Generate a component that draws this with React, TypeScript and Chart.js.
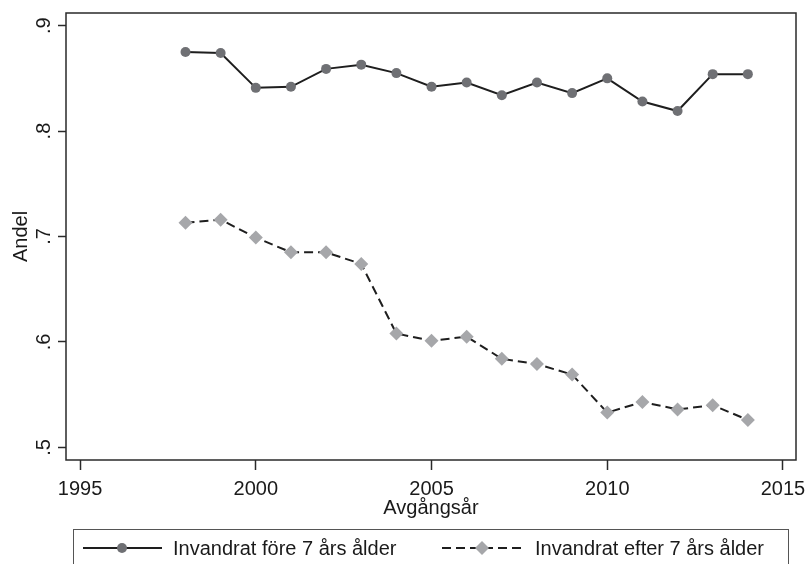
import React, { useEffect, useRef } from "react";
import { Chart, registerables } from "chart.js";

Chart.register(...registerables);

const years = [1998, 1999, 2000, 2001, 2002, 2003, 2004, 2005, 2006, 2007, 2008, 2009, 2010, 2011, 2012, 2013, 2014];
const fore = [0.875, 0.874, 0.841, 0.842, 0.859, 0.863, 0.855, 0.842, 0.846, 0.834, 0.846, 0.836, 0.850, 0.828, 0.819, 0.854, 0.854];
const efter = [0.713, 0.716, 0.699, 0.685, 0.685, 0.674, 0.608, 0.601, 0.605, 0.584, 0.579, 0.569, 0.533, 0.543, 0.536, 0.540, 0.526];
const seriesLabels = ["Invandrat före 7 års ålder", "Invandrat efter 7 års ålder"];
const xTicks = [1995, 2000, 2005, 2010, 2015];
const yTicks = [0.5, 0.6, 0.7, 0.8, 0.9];
const yTickLabels = [".5", ".6", ".7", ".8", ".9"];
const xTitle = "Avgångsår";
const yTitle = "Andel";

const FONT = '20px "Liberation Sans", Arial, sans-serif';
const TEXT = "#1a1a1a";
const LINE = "#1e1e1e";
const C1 = "#6f7074";
const C2 = "#a6a7aa";
const DASH = [9, 5];

const drawPlugin = {
  id: "stataDecor",
  afterDraw(chart: any) {
    const ctx = chart.ctx;
    const ca = chart.chartArea;
    const xs = chart.scales.x;
    const ys = chart.scales.y;
    ctx.save();
    // frame
    ctx.strokeStyle = "#2a2a2a";
    ctx.lineWidth = 1.5;
    ctx.strokeRect(ca.left, ca.top, ca.right - ca.left, ca.bottom - ca.top);

    ctx.fillStyle = TEXT;
    ctx.font = FONT;
    // x tick labels
    ctx.textAlign = "center";
    ctx.textBaseline = "alphabetic";
    xTicks.forEach((v) => {
      ctx.fillText(String(v), xs.getPixelForValue(v), 495);
    });
    // y tick labels, rotated
    yTicks.forEach((v, i) => {
      ctx.save();
      ctx.translate(50, ys.getPixelForValue(v));
      ctx.rotate(-Math.PI / 2);
      ctx.textAlign = "center";
      ctx.textBaseline = "alphabetic";
      ctx.fillText(yTickLabels[i], 0, 0);
      ctx.restore();
    });
    // x title
    ctx.textAlign = "center";
    ctx.fillText(xTitle, (ca.left + ca.right) / 2, 514);
    // y title
    ctx.save();
    ctx.translate(27, (ca.top + ca.bottom) / 2);
    ctx.rotate(-Math.PI / 2);
    ctx.textAlign = "center";
    ctx.fillText(yTitle, 0, 0);
    ctx.restore();

    // legend box
    ctx.strokeStyle = "#555";
    ctx.lineWidth = 1;
    ctx.strokeRect(73.5, 529.5, 715, 60);
    const ly = 548;
    // item 1
    ctx.strokeStyle = LINE;
    ctx.lineWidth = 2;
    ctx.setLineDash([]);
    ctx.beginPath();
    ctx.moveTo(83, ly);
    ctx.lineTo(162, ly);
    ctx.stroke();
    ctx.fillStyle = C1;
    ctx.beginPath();
    ctx.arc(122, ly, 5, 0, Math.PI * 2);
    ctx.fill();
    ctx.fillStyle = TEXT;
    ctx.textAlign = "left";
    ctx.fillText(seriesLabels[0], 173, 555);
    // item 2
    ctx.setLineDash(DASH);
    ctx.beginPath();
    ctx.moveTo(442, ly);
    ctx.lineTo(522, ly);
    ctx.stroke();
    ctx.setLineDash([]);
    ctx.fillStyle = C2;
    ctx.beginPath();
    ctx.moveTo(482, ly - 7);
    ctx.lineTo(489, ly);
    ctx.lineTo(482, ly + 7);
    ctx.lineTo(475, ly);
    ctx.closePath();
    ctx.fill();
    ctx.fillStyle = TEXT;
    ctx.fillText(seriesLabels[1], 535, 555);
    ctx.restore();
  },
};

export default function App() {
  const ref = useRef<HTMLCanvasElement>(null);
  useEffect(() => {
    document.body.style.margin = "0";
    const chart = new Chart(ref.current as HTMLCanvasElement, {
      type: "line",
      data: {
        datasets: [
          {
            label: seriesLabels[0],
            data: years.map((y, i) => ({ x: y, y: fore[i] })),
            borderColor: LINE,
            borderWidth: 2,
            pointStyle: "circle",
            pointRadius: 5,
            pointBackgroundColor: C1,
            pointBorderColor: C1,
            pointBorderWidth: 0,
            tension: 0,
          },
          {
            label: seriesLabels[1],
            data: years.map((y, i) => ({ x: y, y: efter[i] })),
            borderColor: LINE,
            borderWidth: 2,
            borderDash: DASH,
            pointStyle: "rectRot",
            pointRadius: 7,
            pointBackgroundColor: C2,
            pointBorderColor: C2,
            pointBorderWidth: 0,
            tension: 0,
          },
        ],
      },
      options: {
        responsive: false,
        animation: false,
        layout: { padding: { top: 13, right: 14, left: 0, bottom: 0 } },
        plugins: { legend: { display: false }, tooltip: { enabled: false } },
        scales: {
          x: {
            type: "linear",
            min: 1994.6,
            max: 2015.37,
            afterBuildTicks: (s: any) => {
              s.ticks = xTicks.map((v) => ({ value: v }));
            },
            afterFit: (s: any) => {
              s.height = 104;
            },
            ticks: { display: false },
            grid: { drawOnChartArea: false, drawTicks: true, tickLength: 10, tickColor: "#2a2a2a", tickWidth: 1.5 },
            border: { display: false },
          },
          y: {
            type: "linear",
            min: 0.488,
            max: 0.912,
            afterBuildTicks: (s: any) => {
              s.ticks = yTicks.map((v) => ({ value: v }));
            },
            afterFit: (s: any) => {
              s.width = 66;
            },
            ticks: { display: false },
            grid: { drawOnChartArea: false, drawTicks: true, tickLength: 8, tickColor: "#2a2a2a", tickWidth: 1.5 },
            border: { display: false },
          },
        },
      },
      plugins: [drawPlugin],
    });
    return () => chart.destroy();
  }, []);
  return (
    <div style={{ width: 810, height: 564 }}>
      <canvas ref={ref} width={810} height={564} style={{ display: "block" }} />
    </div>
  );
}
